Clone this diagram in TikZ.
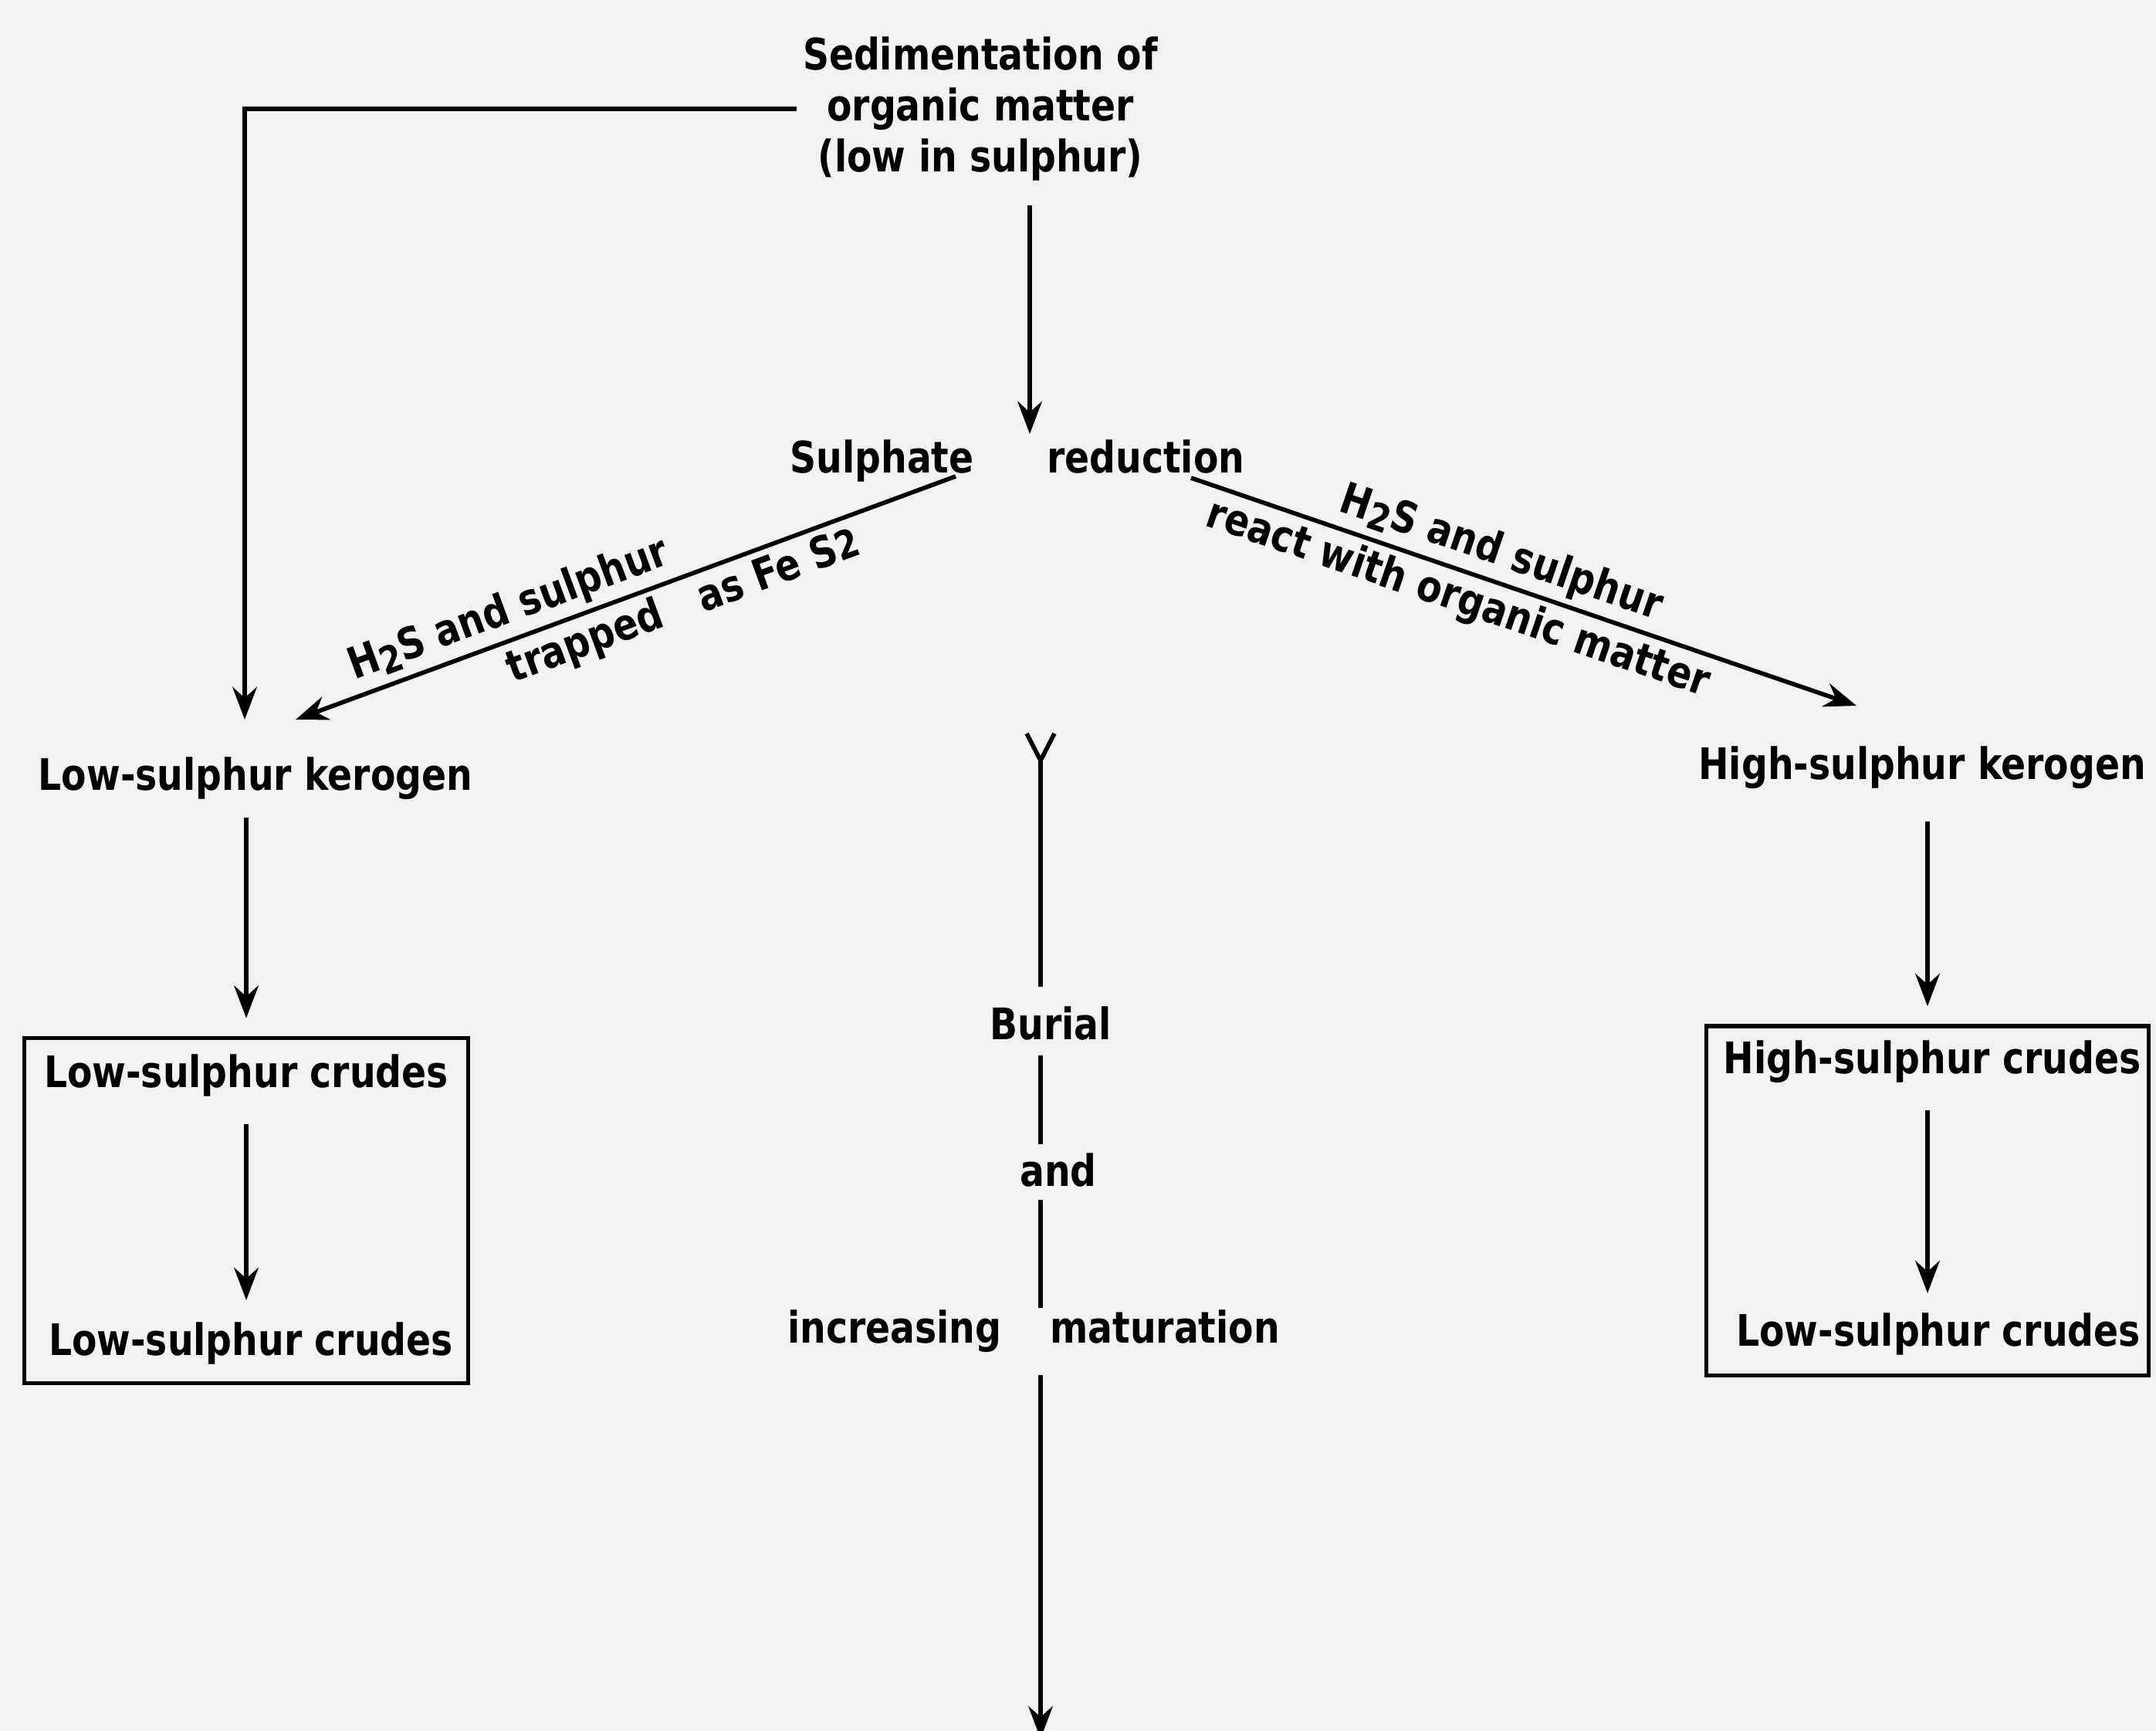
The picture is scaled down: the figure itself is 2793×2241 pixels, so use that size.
\documentclass[tikz,border=0pt]{standalone}
\usepackage{fontspec}
\setmainfont{DejaVu Sans}[FakeStretch=0.84]
\usetikzlibrary{arrows.meta, calc}
\newcommand{\subtwo}{\raisebox{-0.3ex}{\fontsize{14}{14}\selectfont 2}}
\newcommand{\fetwo}{{\fontsize{14.5}{14.5}\selectfont 2}}
\begin{document}
\begin{tikzpicture}[x=0.01cm, y=-0.01cm,
  every node/.style={font=\fontsize{16}{18.8}\selectfont\bfseries, inner sep=2pt, text=black},
  ln/.style={line width=1.6pt, black},
  arr/.style={ln, -{Stealth[length=12pt, width=9pt, inset=4pt]}},
  boxed/.style={draw, line width=1.5pt, black}]
\fill[black!5] (0,0) rectangle (2793,2241);
\useasboundingbox (0,0) rectangle (2793,2241);
\clip (0,0) rectangle (2793,2241);

% nodes
\node[align=center] (sed) at (1270,141) {Sedimentation of\\organic matter\\(low in sulphur)};
\node (sulph) at (1318,597) {Sulphate\hspace{27pt}reduction};
\node (lkero) at (331,1008) {Low-sulphur kerogen};
\node (hkero) at (2490,994) {High-sulphur kerogen};

\node[boxed, minimum width=5.74cm, minimum height=4.47cm] (lbox) at (319,1568) {};
\node (lc1) at (319,1393) {Low-sulphur crudes};
\node (lc2) at (325,1740) {Low-sulphur crudes};

\node[boxed, minimum width=5.72cm, minimum height=4.52cm] (rbox) at (2497,1555) {};
\node (hc1) at (2503,1375) {High-sulphur crudes};
\node (hc2) at (2511,1728) {Low-sulphur crudes};

\node (bur) at (1361,1325) {Burial};
\node (and) at (1371,1515) {and};
\node (inc) at (1339,1724) {increasing\hspace{18pt}maturation};

% coordinates
\coordinate (lv) at (317,932);
\coordinate (ls) at ($(sulph.south)+(-80,-15)$);
\coordinate (ld) at (383,932);
\coordinate (rs) at ($(sulph.south)+(225,-13)$);
\coordinate (rd) at (2405,914);
\coordinate (bt) at (1348,985);
\coordinate (bend) at (1348,2252);

% connectors
\draw[arr] (sed.west) -| (lv);
\draw[arr, shorten <=0.24cm] ([xshift=0.64cm]sed.south) -- ([xshift=0.16cm]sulph.north);

\draw[arr] (ls) -- node[sloped, above, pos=0.662] {H\subtwo S and sulphur}
  node[sloped, below, pos=0.427] {trapped\hspace{10pt} as Fe S\fetwo} (ld);
\draw[arr] (rs) -- node[sloped, above, pos=0.452] {H\subtwo S and sulphur}
  node[sloped, below, pos=0.415] {react with organic matter} (rd);

\draw[arr, shorten <=0.16cm, shorten >=0.23cm] (lkero.south -| lbox.north) -- (lbox.north);
\draw[arr, shorten <=0.28cm, shorten >=0.21cm] (lc1.south -| lbox.center) -- (lc2.north -| lbox.center);
\draw[arr, shorten <=0.35cm, shorten >=0.23cm] (hkero.south -| rbox.north) -- (rbox.north);
\draw[arr, shorten <=0.28cm, shorten >=0.18cm] (hc1.south -| rbox.center) -- (hc2.north -| rbox.center);

% burial line with forked tail
\draw[ln] ($(bt)+(-18,-35)$) -- (bt) -- ($(bt)+(18,-35)$);
\draw[ln, shorten >=0.18cm] (bt) -- (bt |- bur.north);
\draw[ln, shorten <=0.12cm, shorten >=0.04cm] (bt |- bur.south) -- (bt |- and.north);
\draw[ln, shorten <=0.09cm, shorten >=-0.05cm] (bt |- and.south) -- (bt |- inc.north);
\draw[arr, shorten <=0.22cm] (bt |- inc.south) -- (bend);
\end{tikzpicture}
\end{document}
